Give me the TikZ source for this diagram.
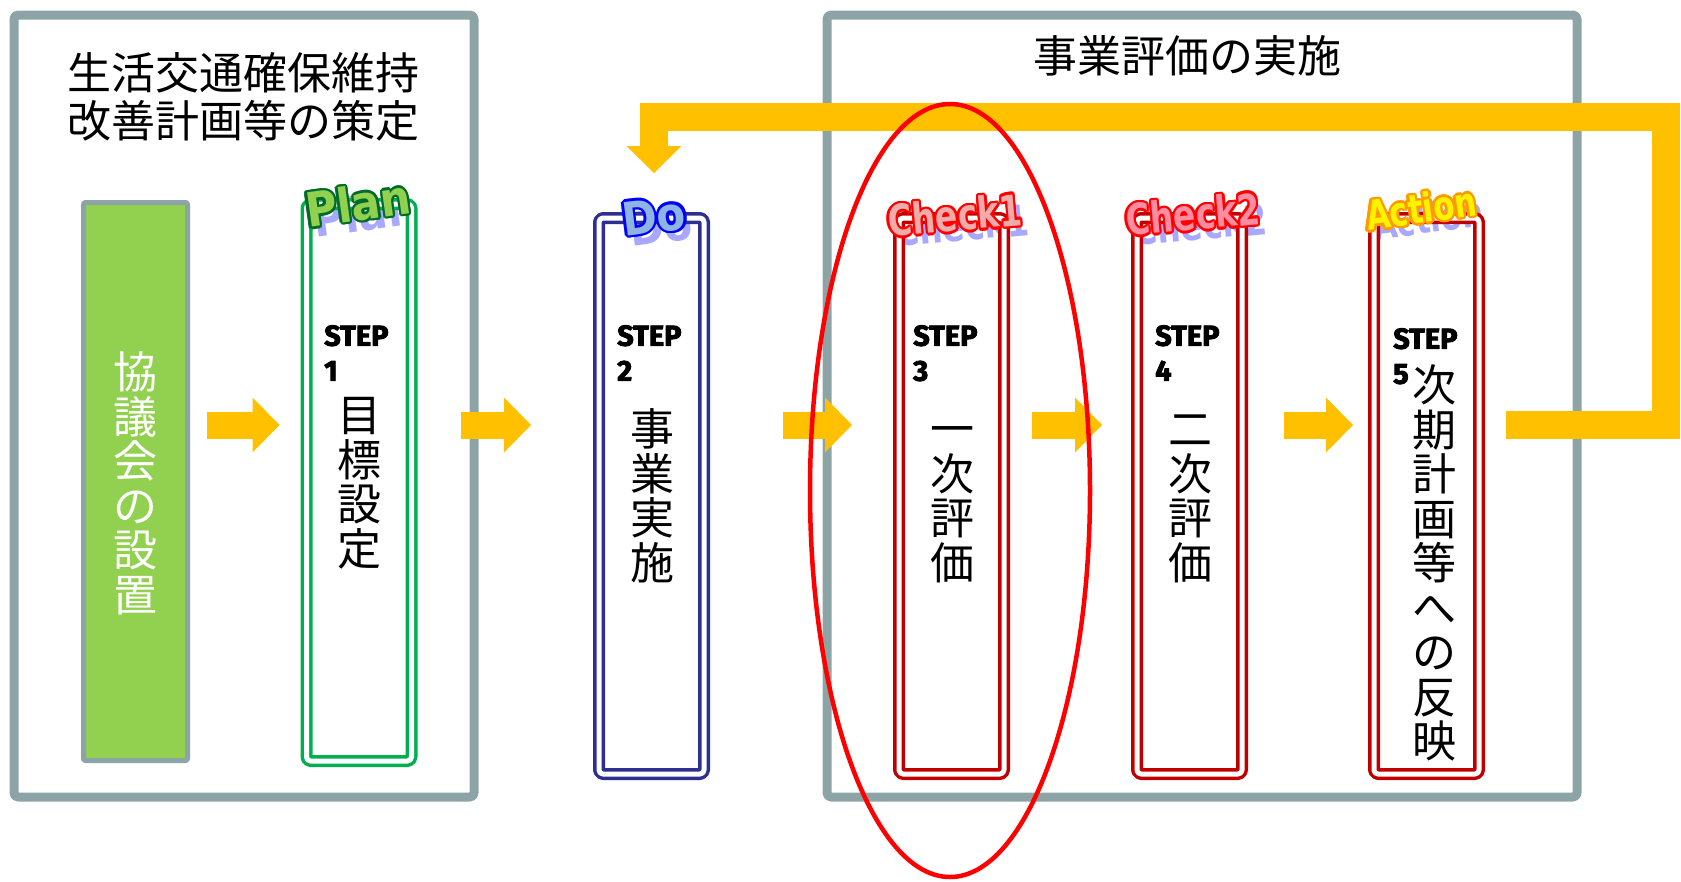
\documentclass[tikz,border=0pt]{standalone}
\usepackage{fontspec}
\usepackage{graphicx}
\usepackage{tikz}
\usetikzlibrary{calc}
\usetikzlibrary{arrows.meta}
\usetikzlibrary{shapes.geometric}
\newfontfamily\cjk{Noto Sans CJK JP}
\newfontfamily\stepfont{Fira Sans}[BoldFeatures={FakeBold=3}]
\newfontfamily\tagfont{DejaVu Sans}
\definecolor{frmgray}{rgb}{0.553,0.643,0.651}
\definecolor{leafgreen}{rgb}{0.573,0.816,0.314}
\definecolor{plangreen}{rgb}{0.,0.69,0.314}
\definecolor{plandark}{rgb}{0.,0.42,0.16}
\definecolor{donavy}{rgb}{0.18,0.19,0.57}
\definecolor{doblue}{rgb}{0.553,0.706,0.886}
\definecolor{checkred}{rgb}{0.753,0.,0.}
\definecolor{checkpinka}{rgb}{0.94,0.67,0.67}
\definecolor{checkpinkb}{rgb}{1.,0.55,0.63}
\definecolor{actorange}{rgb}{1.,0.6,0.}
\definecolor{flowyellow}{rgb}{1.,0.753,0.}
\definecolor{tagshade}{rgb}{0.6,0.6,1.}
\pgfdeclarelayer{behind}
\pgfsetlayers{behind,main}
\newcommand{\firstrow}{\rule{0pt}{39pt}}
\newcommand{\steprow}{\rule{0pt}{20pt}}
% name, position, angle, size, y stretch, fill, rim, text
\newcommand{\wordtag}[8]{%
  \begin{pgfonlayer}{behind}
    \node[tagbase,rotate=#3,font=\tagfont\bfseries\fontsize{#4}{#4}\selectfont,text=tagshade,opacity=0.85] (#1-shadow) at ($(#2)+(7,10)$) {\scalebox{1}[#5]{#8}};
  \end{pgfonlayer}
  \foreach \a in {0,30,...,330}
    \node[tagbase,rotate=#3,font=\tagfont\bfseries\fontsize{#4}{#4}\selectfont,text=#7] (#1-rim\a) at ($(#2)+(\a:2.4)$) {\scalebox{1}[#5]{#8}};
  \node[tagbase,rotate=#3,font=\tagfont\bfseries\fontsize{#4}{#4}\selectfont,text=#6] (#1) at (#2) {\scalebox{1}[#5]{#8}};
}
\tikzset{
  groupbox/.style={draw=frmgray,line width=9pt,rounded corners=4pt,inner sep=0pt,outer sep=0pt},
  councilbox/.style={draw=frmgray,fill=leafgreen,line width=5pt,rounded corners=2pt,inner sep=0pt,outer sep=0pt,minimum width=104pt,minimum height=558pt},
  stepbox/.style={draw=#1,double=white,double distance=5pt,line width=3.5pt,rounded corners=4pt,inner sep=0pt,outer sep=0pt,minimum width=105pt,minimum height=556pt},
  heading/.style={font=\cjk\fontsize{44pt}{48pt}\selectfont,align=center,inner sep=0pt},
  vtext/.style={font=\cjk\fontsize{44pt}{44.5pt}\selectfont,align=center,anchor=north,inner sep=0pt},
  steptag/.style={font=\stepfont\bfseries\fontsize{29pt}{35pt}\selectfont,align=left,anchor=north west,inner sep=0pt},
  tagbase/.style={inner sep=0pt},
  flow/.style={draw=flowyellow,line width=27pt,line cap=butt,-{Triangle[length=27pt,width=55pt,line width=0pt]}},
  backflow/.style={flow,line width=28pt,line join=miter},
  focus/.style={draw=red,line width=4.5pt,ellipse,inner sep=0pt,minimum width=280pt,minimum height=773pt}
}
\begin{document}
\begin{tikzpicture}[line cap=round,line join=round,x=1pt,y=-1pt]
\useasboundingbox (0,0) rectangle (1681,881);
% frames and headings
\node[groupbox,minimum width=460pt,minimum height=782pt] (plangroup) at (244,406) {};
\node[groupbox,minimum width=750pt,minimum height=782pt] (evalgroup) at (1202,406) {};
\node[heading] (plantitle) at (243,97) {生活交通確保維持\\改善計画等の策定};
\node[heading] (evaltitle) at (1187,56) {事業評価の実施};
% boxes
\node[councilbox] (council) at (135.5,481.5) {};
\node[stepbox=plangreen,minimum height=557pt] (step1) at (359,482.5) {};
\node[stepbox=donavy] (step2) at (651.5,496) {};
\node[stepbox=checkred] (step3) at (951.5,496) {};
\node[stepbox=checkred] (step4) at (1189.5,496) {};
\node[stepbox=checkred] (step5) at (1426.5,496) {};
% texts
\node[vtext,text=white] (council-text) at (135.5,349.7) {\firstrow 協\\議\\会\\の\\設\\置};
\node[steptag] (step1-num) at (324,325) {\steprow STEP\\1};
\node[vtext] (step1-text) at (359,392.7) {\firstrow 目\\標\\設\\定};
\node[steptag] (step2-num) at (617,325) {\steprow STEP\\2};
\node[vtext] (step2-text) at (652,406.7) {\firstrow 事\\業\\実\\施};
\node[steptag] (step3-num) at (913,325) {\steprow STEP\\3};
\node[vtext] (step3-text) at (952,406.7) {\firstrow 一\\次\\評\\価};
\node[steptag] (step4-num) at (1155,325) {\steprow STEP\\4};
\node[vtext] (step4-text) at (1190,406.7) {\firstrow 二\\次\\評\\価};
\node[steptag] (step5-num) at (1393,328) {\steprow STEP\\5};
\node[vtext] (step5-text) at (1434,362.7) {\firstrow 次\\期\\計\\画\\等\\へ\\の\\反\\映};
% arrows
\coordinate (flowy) at (0,425);
\coordinate (fbside) at (1666,0);
\coordinate (fbtop) at (0,117);
\coordinate (fbtip) at (654,173);
\draw[flow,shorten <=19pt,shorten >=27pt] (council.east |- flowy) -- (step1.west |- flowy);
\draw[flow,shorten <=49pt,shorten >=68pt] (step1.east |- flowy) -- (step2.west |- flowy);
\draw[flow,shorten <=79pt,shorten >=47pt] (step2.east |- flowy) -- (step3.west |- flowy);
\draw[flow,shorten <=28pt,shorten >=35pt] (step3.east |- flowy) -- (step4.west |- flowy);
\draw[flow,shorten <=42pt,shorten >=21pt] (step4.east |- flowy) -- (step5.west |- flowy);
\draw[backflow,shorten <=27pt] (step5.east |- flowy) -- (fbside |- flowy) -- (fbside |- fbtop) -- (fbtip |- fbtop) -- (fbtip);
\node[focus] (firsteval) at (950,490.5) {};
% tags
\wordtag{plan-tag}{358,203}{8}{43}{1.1}{leafgreen}{plandark}{Plan}
\wordtag{do-tag}{654,216}{7}{42}{1.1}{doblue}{blue}{Do}
\wordtag{check1-tag}{955,215}{5}{33}{1.3}{checkpinka}{red}{Check1}
\wordtag{check2-tag}{1193,214}{5}{33}{1.3}{checkpinkb}{red}{Check2}
\wordtag{action-tag}{1421,208}{8}{31}{1.3}{yellow}{actorange}{Action}
\end{tikzpicture}
\end{document}
